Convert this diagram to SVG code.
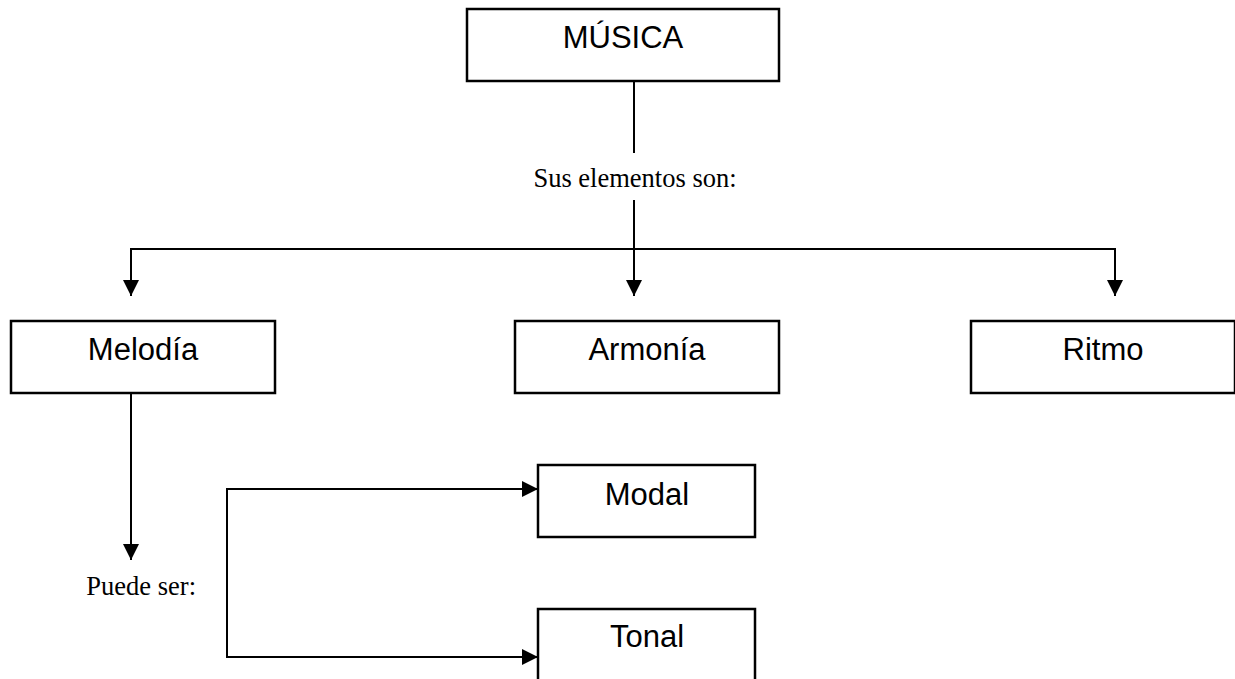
<svg xmlns="http://www.w3.org/2000/svg" width="1235" height="679" viewBox="0 0 1235 679">
<style>
.box{fill:#fff;stroke:#000;stroke-width:2.5}
.lbl{font-family:"Liberation Sans",Arial,sans-serif;font-size:31px;fill:#000;text-anchor:middle}
.note{font-family:"Liberation Serif","Times New Roman",serif;font-size:26.5px;fill:#000}
.ln{fill:none;stroke:#000;stroke-width:2}
</style>
<defs>
<marker id="ah" markerUnits="userSpaceOnUse" markerWidth="16" markerHeight="16" viewBox="0 0 15 15" refX="15" refY="7.5" orient="auto">
<path d="M0,0 L15,7.5 L0,15 Z" fill="#000"/>
</marker>
</defs>
<rect width="1235" height="679" fill="#fff"/>
<g id="connectors">
<line class="ln" x1="634" y1="81" x2="634" y2="153"/>
<line class="ln" x1="634" y1="200" x2="634" y2="296" marker-end="url(#ah)"/>
<polyline class="ln" points="131,296 131,249 1115,249 1115,296" marker-end="url(#ah)"/>
<line class="ln" x1="131" y1="260" x2="131" y2="296" marker-end="url(#ah)"/>
<line class="ln" x1="131" y1="393" x2="131" y2="560" marker-end="url(#ah)"/>
<polyline class="ln" points="538,489 227,489 227,657 538,657" marker-end="url(#ah)"/>
<line class="ln" x1="500" y1="489" x2="538" y2="489" marker-end="url(#ah)"/>
</g>
<g id="musica"><rect class="box" x="467" y="9" width="312" height="72"/><text class="lbl" x="623" y="48">MÚSICA</text></g>
<g id="sus"><text class="note" x="635" y="187" text-anchor="middle">Sus elementos son:</text></g>
<g id="melodia"><rect class="box" x="11" y="321" width="264" height="72"/><text class="lbl" x="143" y="360">Melodía</text></g>
<g id="armonia"><rect class="box" x="515" y="321" width="264" height="72"/><text class="lbl" x="647" y="360">Armonía</text></g>
<g id="ritmo"><rect class="box" x="971" y="321" width="264" height="72"/><text class="lbl" x="1103" y="360">Ritmo</text></g>
<g id="puede"><text class="note" x="196" y="595" text-anchor="end">Puede ser:</text></g>
<g id="modal"><rect class="box" x="538" y="465" width="217" height="72"/><text class="lbl" x="647" y="505">Modal</text></g>
<g id="tonal"><rect class="box" x="538" y="609" width="217" height="74"/><text class="lbl" x="647" y="647">Tonal</text></g>
</svg>
